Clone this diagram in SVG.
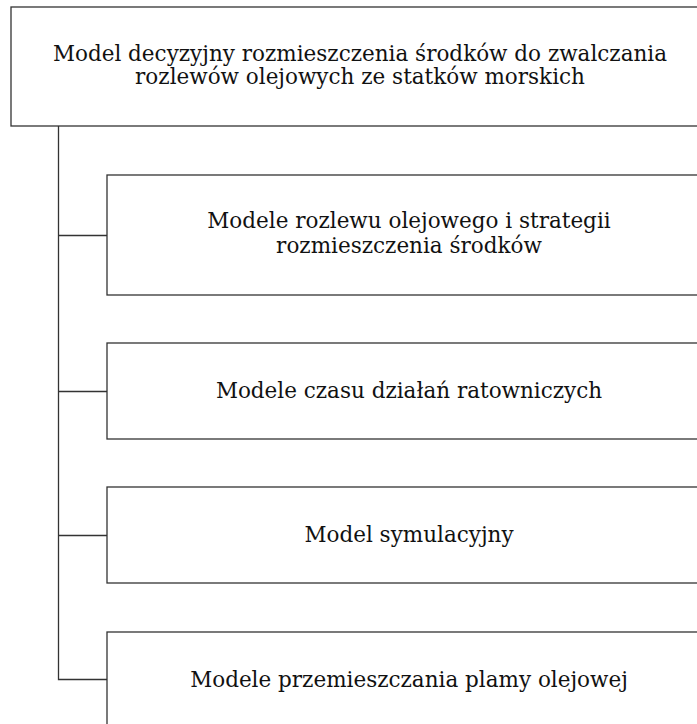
<svg xmlns="http://www.w3.org/2000/svg" width="697" height="724" viewBox="0 0 697 724">
<style>
.box{fill:#fff;stroke:#333;stroke-width:1.3}
.conn{fill:none;stroke:#333;stroke-width:1.3}
text{font-family:"DejaVu Serif",serif;font-size:21.5px;fill:#111;text-anchor:middle}
</style>
<rect width="697" height="724" fill="#fff"/>
<g id="connectors">
<path class="conn" d="M58.5,126 V679.5 H107 M58.5,235.5 H107 M58.5,391.5 H107 M58.5,535.5 H107"/>
</g>
<g id="root">
<rect class="box" x="11" y="7" width="700" height="119"/>
<text><tspan x="360" y="61">Model decyzyjny rozmieszczenia środków do zwalczania</tspan><tspan x="360" y="84">rozlewów olejowych ze statków morskich</tspan></text>
</g>
<g id="n1">
<rect class="box" x="107" y="175" width="600" height="120"/>
<text><tspan x="409" y="228">Modele rozlewu olejowego i strategii</tspan><tspan x="409" y="252.5">rozmieszczenia środków</tspan></text>
</g>
<g id="n2">
<rect class="box" x="107" y="343" width="600" height="96"/>
<text x="409" y="398">Modele czasu działań ratowniczych</text>
</g>
<g id="n3">
<rect class="box" x="107" y="487" width="600" height="96"/>
<text x="409" y="542">Model symulacyjny</text>
</g>
<g id="n4">
<rect class="box" x="107" y="632" width="600" height="110"/>
<text x="409" y="687">Modele przemieszczania plamy olejowej</text>
</g>
</svg>
